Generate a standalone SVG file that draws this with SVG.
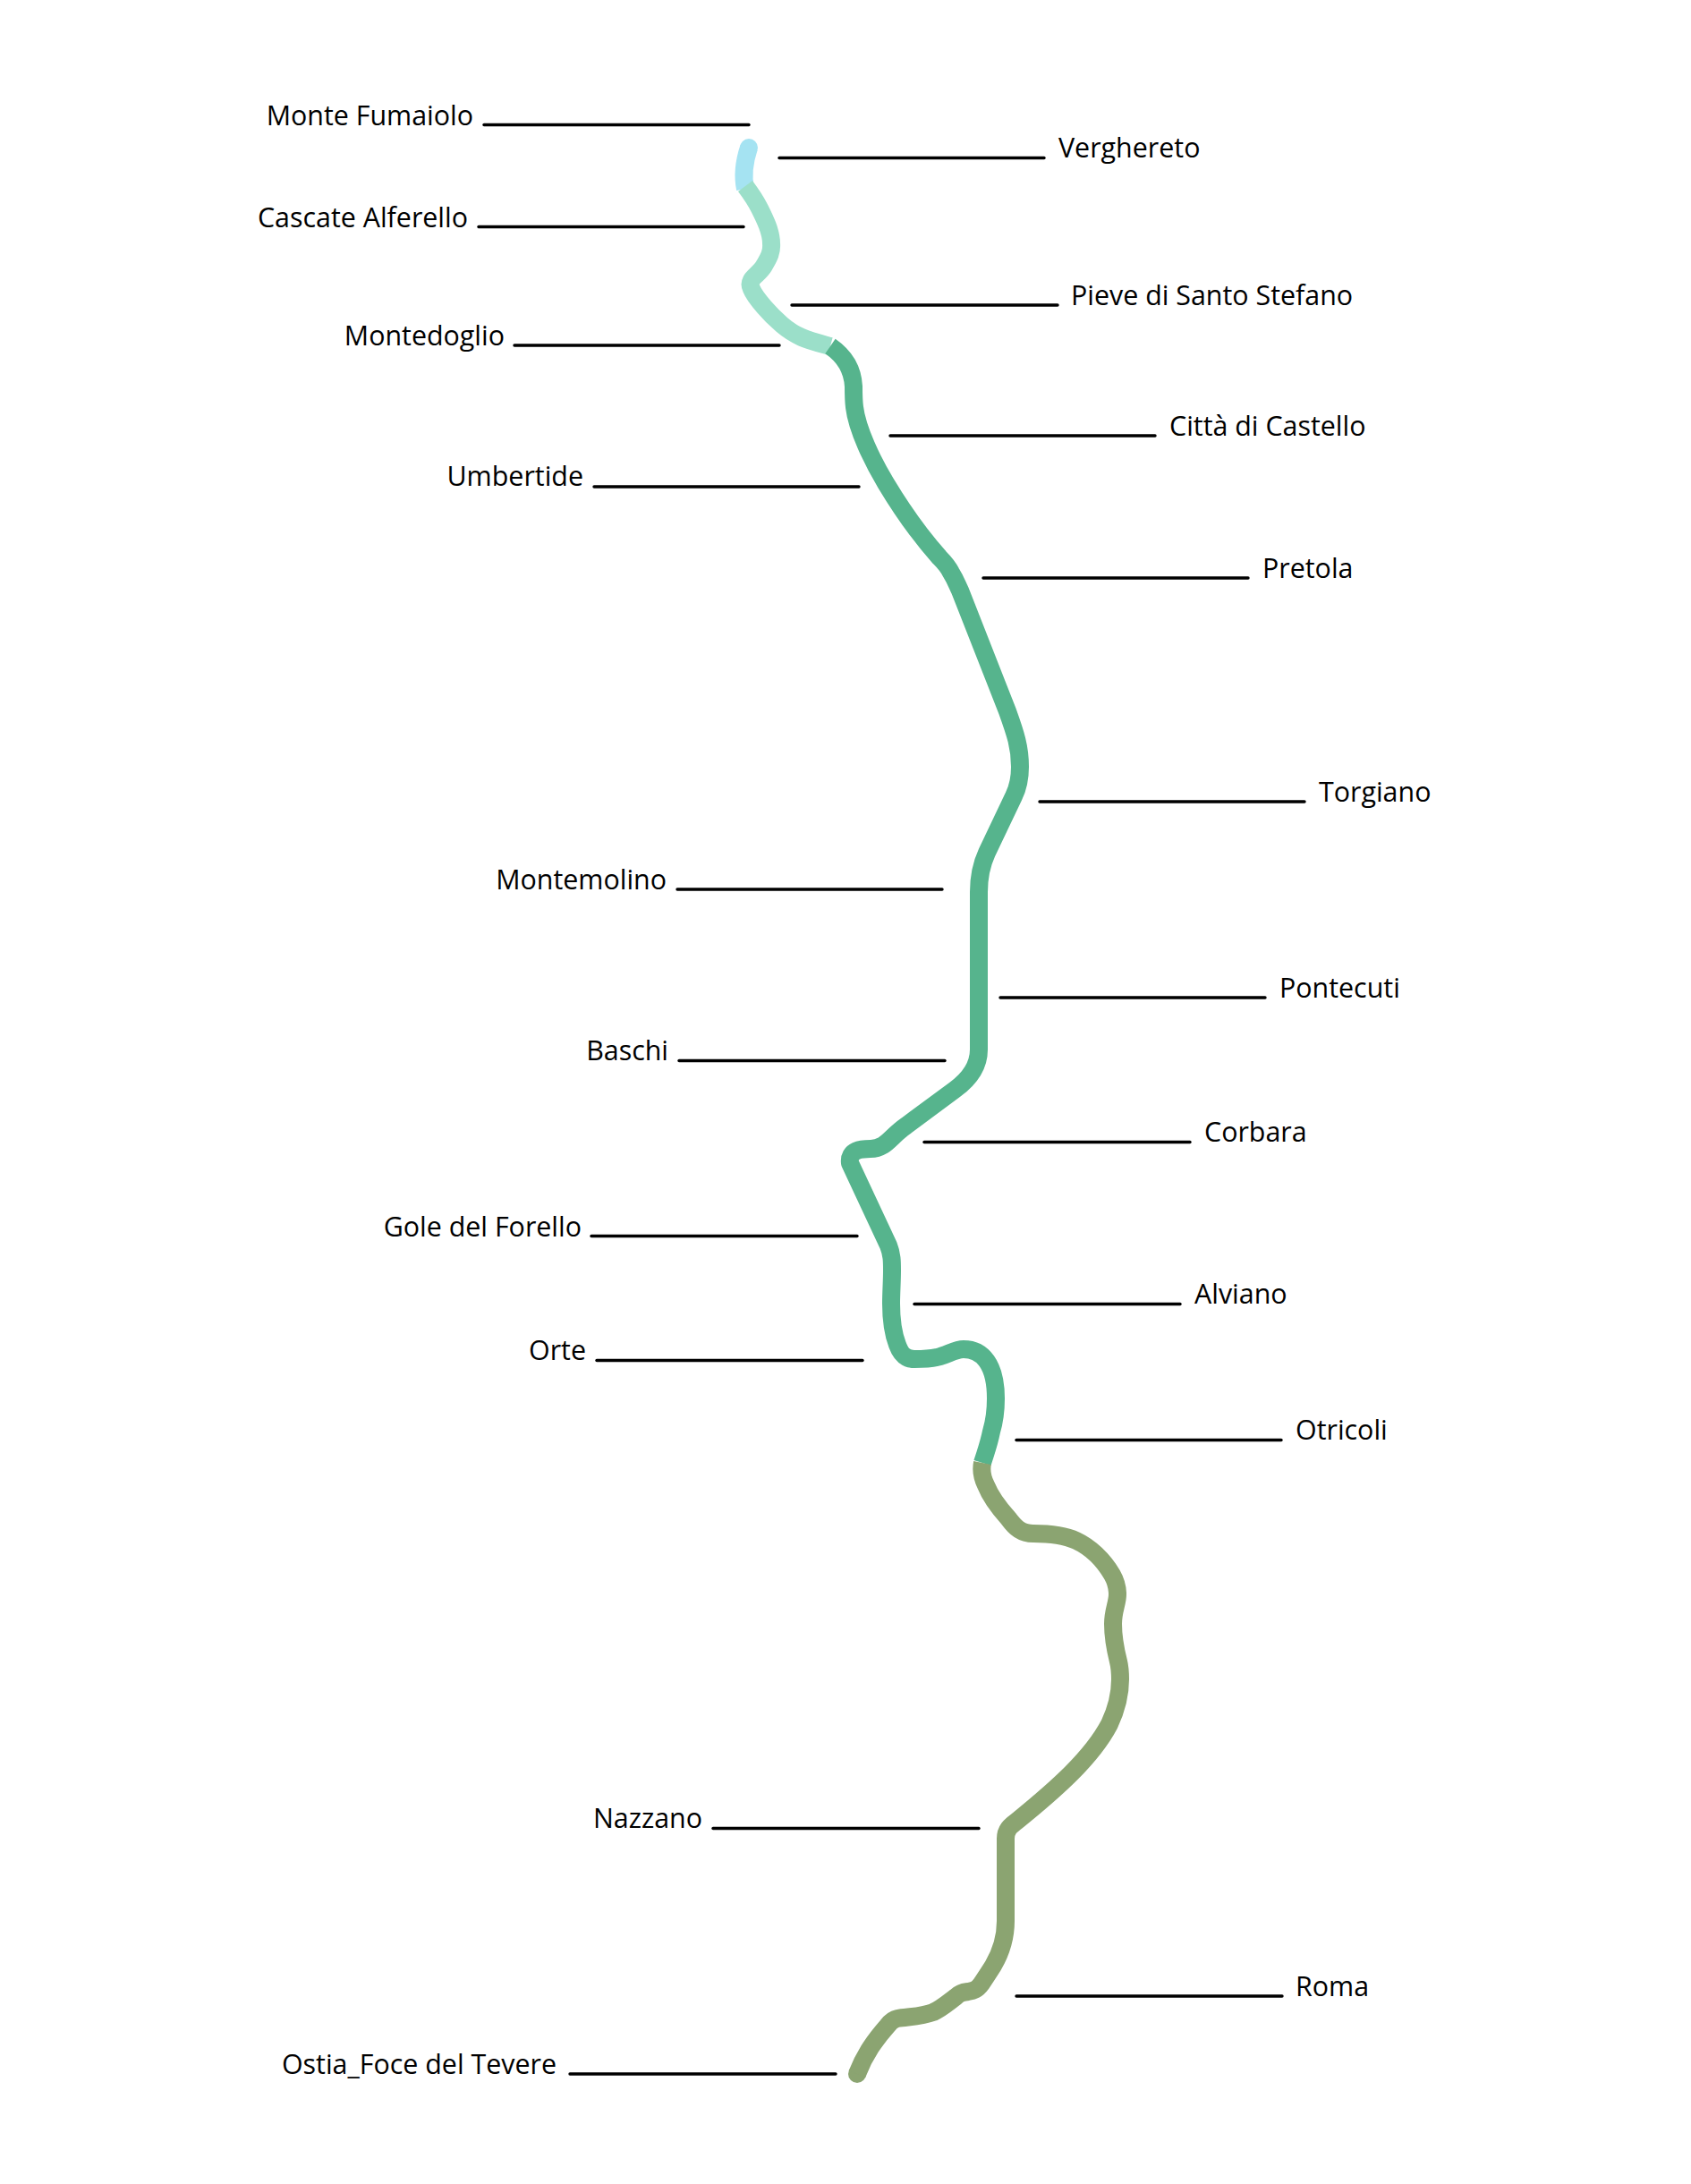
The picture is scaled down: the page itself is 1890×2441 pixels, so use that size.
<svg xmlns="http://www.w3.org/2000/svg" width="1890" height="2441" viewBox="0 0 1890 2441">
<style>
.r{fill:none;stroke-width:20;stroke-linejoin:round}
.l{stroke:#000;stroke-width:3.4;stroke-linecap:round}
text{font-family:"Open Sans","Liberation Sans",sans-serif;font-size:30.4px;fill:#000}
.e{text-anchor:end}
</style>
<rect width="1890" height="2441" fill="#fff"/>
<g id="river">
<circle cx="837" cy="165" r="10" fill="#a5e3f2"/>
<path class="r" stroke="#a5e3f2" d="M837 165C833 177 829 192 833 211"/>
<path class="r" stroke="#9bdfc9" d="M833 208C836 212 844 223 849 233C855 245 862 259 862 272C863 283 858 290 854 297C850 304 842 309 840 313C838 317 838 318 840 323C842 328 848 336 854 343C860 350 867 357 874 363C881 369 887 373 896 377C905 381 917 384 928 387"/>
<path class="r" stroke="#56b48d" d="M928 387C944 398 953 412 954 432C954 440 954 447 955 455C958 480 975 515 990 540C1005 565 1025 595 1050 623C1056 629 1060 634 1063 640C1068 648 1070 654 1073 660L1126 795C1135 820 1140 835 1140 857C1140 870 1138 880 1133 890L1103 953C1097 966 1094 980 1094 997V1173C1094 1190 1085 1205 1067 1218L1013 1258C1000 1267 995 1275 987 1280C982 1283 978 1284 973 1284C963 1284 948 1285 950 1300L993 1392C997 1402 997 1410 997 1420C997 1432 996 1445 996 1457C996 1475 998 1490 1003 1503C1007 1514 1012 1519 1022 1519C1032 1519 1038 1519 1047 1517C1058 1515 1067 1508 1077 1508C1098 1508 1113 1525 1113 1563C1113 1580 1111 1590 1108 1600C1105 1615 1102 1622 1098 1635"/>
<circle cx="958" cy="2318" r="10" fill="#8ba471"/>
<path class="r" stroke="#8ba471" d="M1098 1635C1096 1645 1098 1652 1102 1660C1108 1675 1118 1687 1127 1697C1135 1708 1142 1714 1155 1714C1175 1714 1190 1716 1203 1722C1218 1729 1233 1743 1243 1760C1247 1767 1249 1775 1249 1782C1249 1792 1244 1800 1244 1815C1244 1830 1247 1845 1250 1857C1252 1865 1252 1870 1252 1877C1252 1895 1248 1910 1240 1927C1220 1965 1180 2000 1137 2035C1129 2041 1124 2045 1124 2055V2147C1124 2165 1120 2180 1110 2197C1105 2205 1101 2211 1097 2217C1092 2224 1088 2225 1082 2226C1075 2227 1072 2228 1068 2232C1060 2238 1052 2245 1043 2249C1030 2254 1015 2254 1003 2256C998 2257 995 2260 992 2264C978 2280 967 2295 958 2318"/>
</g>
<g id="connectors">
<line class="l" x1="541" y1="139.5" x2="837" y2="139.5"/>
<line class="l" x1="871" y1="176.5" x2="1167" y2="176.5"/>
<line class="l" x1="535" y1="253.5" x2="831" y2="253.5"/>
<line class="l" x1="885" y1="341" x2="1182" y2="341"/>
<line class="l" x1="575" y1="386" x2="871" y2="386"/>
<line class="l" x1="995" y1="487" x2="1291" y2="487"/>
<line class="l" x1="664" y1="544" x2="960" y2="544"/>
<line class="l" x1="1099" y1="646" x2="1395" y2="646"/>
<line class="l" x1="1162" y1="896" x2="1458" y2="896"/>
<line class="l" x1="757" y1="994" x2="1053" y2="994"/>
<line class="l" x1="1118" y1="1115" x2="1414" y2="1115"/>
<line class="l" x1="759" y1="1185.5" x2="1056" y2="1185.5"/>
<line class="l" x1="1033" y1="1276.5" x2="1330" y2="1276.5"/>
<line class="l" x1="661" y1="1381.5" x2="958" y2="1381.5"/>
<line class="l" x1="1022" y1="1457.5" x2="1319" y2="1457.5"/>
<line class="l" x1="667" y1="1520.5" x2="964" y2="1520.5"/>
<line class="l" x1="1136" y1="1609.5" x2="1432" y2="1609.5"/>
<line class="l" x1="797" y1="2043.5" x2="1094" y2="2043.5"/>
<line class="l" x1="1136" y1="2231" x2="1433" y2="2231"/>
<line class="l" x1="637" y1="2318" x2="934" y2="2318"/>
</g>
<g id="labels">
<text class="e" x="529" y="140">Monte Fumaiolo</text>
<text x="1183" y="176">Verghereto</text>
<text class="e" x="523" y="254">Cascate Alferello</text>
<text x="1197" y="341">Pieve di Santo Stefano</text>
<text class="e" x="564" y="386">Montedoglio</text>
<text x="1307" y="487">Città di Castello</text>
<text class="e" x="652" y="543">Umbertide</text>
<text x="1411" y="646">Pretola</text>
<text x="1474" y="896">Torgiano</text>
<text class="e" x="745" y="994">Montemolino</text>
<text x="1430" y="1115">Pontecuti</text>
<text class="e" x="747" y="1185">Baschi</text>
<text x="1346" y="1276">Corbara</text>
<text class="e" x="650" y="1382">Gole del Forello</text>
<text x="1335" y="1457">Alviano</text>
<text class="e" x="655" y="1520">Orte</text>
<text x="1448" y="1609">Otricoli</text>
<text class="e" x="785" y="2043">Nazzano</text>
<text x="1448" y="2231">Roma</text>
<text class="e" x="622" y="2318">Ostia_Foce del Tevere</text>
</g>
</svg>
